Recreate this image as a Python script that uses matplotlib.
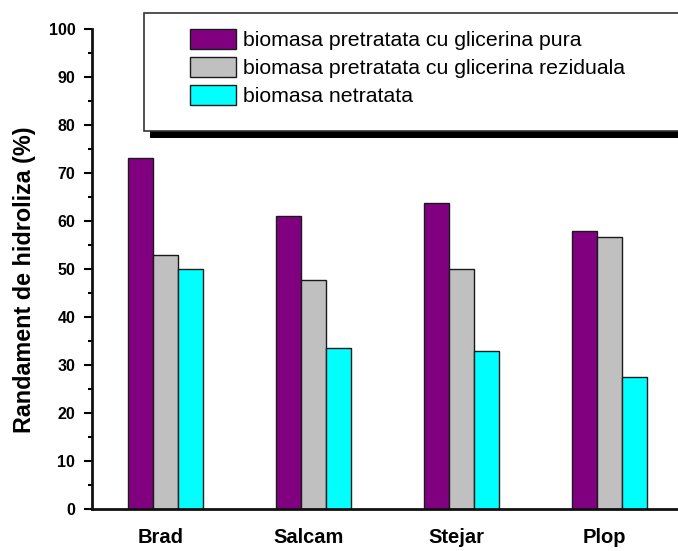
import matplotlib
matplotlib.use("Agg")
import matplotlib.pyplot as plt
import numpy as np
from matplotlib.patches import Rectangle, Patch
from matplotlib.ticker import MultipleLocator

plt.rcParams['font.family'] = ['Liberation Sans', 'DejaVu Sans']

categories = ["Brad", "Salcam", "Stejar", "Plop"]
series_names = [
    "biomasa pretratata cu glicerina pura",
    "biomasa pretratata cu glicerina reziduala",
    "biomasa netratata",
]
glicerina_pura = [73.2, 61.0, 63.7, 57.9]
glicerina_reziduala = [52.9, 47.7, 50.0, 56.7]
netratata = [50.0, 33.5, 32.9, 27.5]
series_values = [glicerina_pura, glicerina_reziduala, netratata]
colors = ["#800080", "#C0C0C0", "#00FFFF"]
y_label = "Randament de hidroliza (%)"

W, H = 678, 551
fig = plt.figure(figsize=(W / 100, H / 100), dpi=100)

# axes rectangle in pixels: left spine at x=92, y=0 at 509 px, y=100 at 29 px
ax_left, ax_bottom_px, ax_top_px = 92, 509, 29
ax_w_px = W - ax_left
ax_h_px = ax_bottom_px - ax_top_px
ax = fig.add_axes([ax_left / W, (H - ax_bottom_px) / H, ax_w_px / W, ax_h_px / H])

x = np.arange(len(categories))
bar_w = 0.169
for i, (vals, col) in enumerate(zip(series_values, colors)):
    ax.bar(x + (i - 1) * bar_w, vals, width=bar_w, color=col,
           edgecolor="#1a1a1a", linewidth=1.0, zorder=2)

ax.set_ylim(0, 100)
ax.set_xlim(-0.497, 3.463)
ax.yaxis.set_major_locator(MultipleLocator(10))
ax.yaxis.set_minor_locator(MultipleLocator(5))
ax.set_xticks(x - 0.035)
ax.set_xticklabels(categories, fontsize=14.5, fontweight="bold")
ax.tick_params(axis="x", length=0, pad=14)
ax.tick_params(axis="y", which="major", direction="out", length=6, width=1.5,
               labelsize=11.5, pad=6)
ax.tick_params(axis="y", which="minor", direction="out", length=3, width=1.5)
for lbl in ax.get_yticklabels():
    lbl.set_fontweight("bold")

for side in ("top", "right"):
    ax.spines[side].set_visible(False)
for side in ("left", "bottom"):
    ax.spines[side].set_linewidth(2)
    ax.spines[side].set_color("#111111")

ax.set_ylabel(y_label, fontsize=16.8, fontweight="bold")
ax.yaxis.set_label_coords((36 - ax_left) / ax_w_px, (ax_bottom_px - 280) / ax_h_px)

# legend frame with heavy drop shadow
def px_rect(x0, y0, x1, y1, **kw):
    return Rectangle((x0 / W, 1 - y1 / H), (x1 - x0) / W, (y1 - y0) / H,
                     transform=fig.transFigure, **kw)

fig.patches.append(px_rect(150, 19, 700, 138, facecolor="black",
                           edgecolor="none", zorder=5))
fig.patches.append(px_rect(143.5, 13, 692, 131, facecolor="white",
                           edgecolor="#333333", linewidth=1.2, zorder=6))

handles = [Patch(facecolor=c, edgecolor="#1a1a1a", linewidth=1.0) for c in colors]
leg = fig.legend(handles, series_names, loc="upper left",
                 bbox_to_anchor=(190 / W, 1 - 29 / H), frameon=False,
                 fontsize=15.3, handlelength=2.15, handleheight=1.1,
                 handletextpad=0.35, labelspacing=0.3, borderpad=0,
                 borderaxespad=0)
leg.set_zorder(7)

fig.savefig("out.png", dpi=100)
